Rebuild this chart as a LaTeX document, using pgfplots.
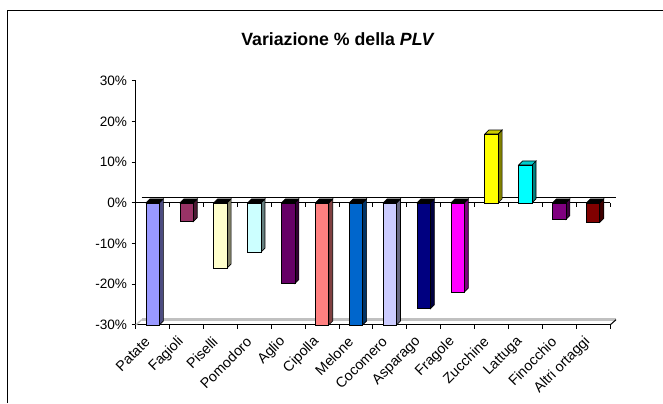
\documentclass[border=0pt]{standalone}
\usepackage{pgfplots}
\usepackage{pgfplotstable}
\usepackage{fontspec}
\setmainfont{Liberation Sans}
\pgfplotsset{compat=1.18}

% Excel default palette, one colour per category (c0 = Patate ... c13 = Altri ortaggi)
\definecolor{c0}{HTML}{9999FF}
\definecolor{c1}{HTML}{993366}
\definecolor{c2}{HTML}{FFFFCC}
\definecolor{c3}{HTML}{CCFFFF}
\definecolor{c4}{HTML}{660066}
\definecolor{c5}{HTML}{FF8080}
\definecolor{c6}{HTML}{0066CC}
\definecolor{c7}{HTML}{CCCCFF}
\definecolor{c8}{HTML}{000080}
\definecolor{c9}{HTML}{FF00FF}
\definecolor{c10}{HTML}{FFFF00}
\definecolor{c11}{HTML}{00FFFF}
\definecolor{c12}{HTML}{800080}
\definecolor{c13}{HTML}{800000}
\definecolor{floorgray}{HTML}{C0C0C0}

\pgfdeclareplotmark{empty}{}

% variazione % (values below -30 are cut at the axis floor)
\pgfplotstableread{
x    v
0.5  -30
1.5  -4.6
2.5  -16.0
3.5  -12.1
4.5  -19.8
5.5  -30
6.5  -30
7.5  -30
8.5  -26.0
9.5  -21.9
10.5 16.9
11.5 9.3
12.5 -4.1
13.5 -4.8
}\variazione

\begin{document}
\begin{tikzpicture}
\useasboundingbox (0,0) rectangle (497.25pt,302.25pt);
\draw[line width=0.75pt] (5.6pt,0) -- (5.6pt,294.4pt) -- (497.25pt,294.4pt);

\begin{axis}[
  at={(101.8pt,58.5pt)}, anchor=south west,
  x=25.41pt, y=3.054pt,
  xmin=0, xmax=14, ymin=-30, ymax=30,
  axis x line*=bottom, axis y line*=left,
  axis line style={black, line width=0.75pt, -},
  tick align=outside,
  major tick length=3pt,
  xtick={0.5,1.5,...,13.5},
  xticklabels={Patate,Fagioli,Piselli,Pomodoro,Aglio,Cipolla,Melone,Cocomero,Asparago,Fragole,Zucchine,Lattuga,Finocchio,Altri ortaggi},
  xtick style={draw=none},
  ytick={-30,-20,...,30},
  yticklabels={-30\%,-20\%,-10\%,0\%,10\%,20\%,30\%},
  ytick style={black, line width=0.75pt},
  ticklabel style={font=\fontsize{10.2}{12}\selectfont},
  xticklabel style={font=\fontsize{10.7}{12}\selectfont, yshift=-5.5pt, xshift=-1.5pt, rotate=45, anchor=east},
  clip=false,
]
% back wall and floor
\draw[floorgray, line width=2pt] ([shift={(4.5pt,4pt)}]axis cs:0,-30) -- ([shift={(4.5pt,4pt)}]axis cs:14,-30);
\draw[floorgray, line width=1pt] (axis cs:0,-30) -- ++(4.5pt,4pt);
\draw[line width=0.75pt] (axis cs:14,-30) -- ++(4.5pt,4pt);
\draw[line width=0.75pt] ([shift={(4.5pt,4.2pt)}]axis cs:0,0) -- ([shift={(4.5pt,4.2pt)}]axis cs:14,0);
\draw[line width=0.75pt] (axis cs:0,0) -- (axis cs:14,0);
\pgfplotsinvokeforeach{0,...,14}{
  \draw[line width=0.75pt] (axis cs:#1,-30) -- ++(0pt,-3pt);
  \draw[line width=0.75pt] (axis cs:#1,0) -- ++(0pt,-3pt);
}

\addplot[
  scatter, only marks, mark=empty,
  visualization depends on={y \as \val},
  scatter/@pre marker code/.code={%
    \begin{scope}
    \pgfmathtruncatemacro\idx{\coordindex}%
    \pgfmathsetmacro\bse{-(\val)*3.054}%
    \pgfmathsetmacro\yt{max(0,\bse)}%
    \pgfmathsetmacro\yb{min(0,\bse)}%
    \pgfmathsetmacro\ytd{\yt+3}%
    \pgfmathsetmacro\ybd{\yb+3}%
    \ifdim\bse pt>0pt \colorlet{topc}{black}\else\colorlet{topc}{c\idx!80!black}\fi
    \filldraw[fill=c\idx!50!black, draw=black, line width=0.5pt]
      (5pt,\yb pt) -- (8pt,\ybd pt) -- (8pt,\ytd pt) -- (5pt,\yt pt) -- cycle;
    \filldraw[fill=topc, draw=black, line width=0.5pt]
      (-5pt,\yt pt) -- (-2pt,\ytd pt) -- (8pt,\ytd pt) -- (5pt,\yt pt) -- cycle;
    \filldraw[fill=c\idx, draw=black, line width=0.5pt]
      (-5pt,\yb pt) rectangle (5pt,\yt pt);
    \end{scope}
  },
  scatter/@post marker code/.code={},
] table[x=x, y=v] {\variazione};
\end{axis}

\node[font=\bfseries\fontsize{13.3}{16}\selectfont] at (253.5pt,273pt) {Variazione \% della \textit{PLV}};
\end{tikzpicture}
\end{document}
